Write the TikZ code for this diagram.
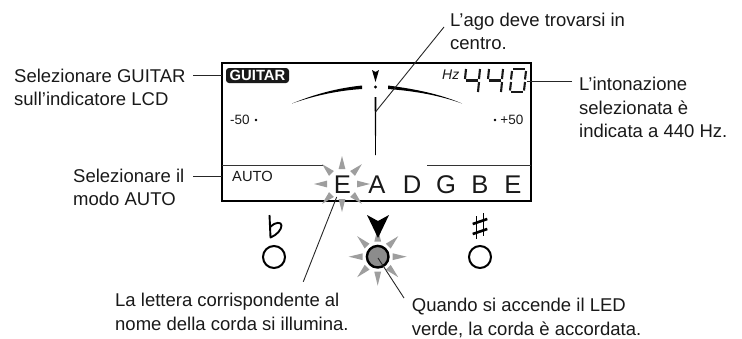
\documentclass[tikz,border=0pt]{standalone}
\usepackage{fontspec}
\setmainfont{Liberation Sans}
\usetikzlibrary{calc,positioning}
\definecolor{raygray}{gray}{.62}
\tikzset{
  lab/.style={font=\fontsize{18.5}{23.4}\selectfont,align=left,inner sep=0pt,anchor=base west,text=black!90},
  lcdtxt/.style={font=\fontsize{13.5}{14}\selectfont,inner sep=0pt,text=black!90},
  note/.style={font=\fontsize{25.6}{28}\selectfont,inner sep=0pt,anchor=base,text=black!90},
  leader/.style={line width=.9pt,black!85},
  segm/.style={line width=2.1pt,black!90},
}
\newcommand{\burst}[3]{%
  \foreach \ang in {0,45,...,315}
    \fill[raygray] ($(#1)+(\ang:#2)+(\ang+90:3.4)$) -- ($(#1)+(\ang:#3)$) -- ($(#1)+(\ang:#2)+(\ang-90:3.4)$) -- cycle;
}
\begin{document}
\begin{tikzpicture}[x=1pt,y=-1pt]
    \useasboundingbox (0,0) rectangle (742,338);

    % display frame
    \draw[line width=2pt] (222.2,63.3) rectangle (531.2,201);
    \draw[line width=.9pt,black!80] (222,165.7) -- (323,165.7);
    \draw[line width=.9pt,black!80] (427,165.7) -- (531,165.7);

    % scale
    \fill (292,103.5) .. controls (315,94) and (338,88) .. (362,85.5) -- (362,89) .. controls (338,90.5) and (315,95.5) .. cycle;
    \fill (462,103.5) .. controls (440,94) and (415,89) .. (388,85.5) -- (388,89) .. controls (415,91) and (440,95.5) .. cycle;
    \fill (372,70) -- (375.5,72) -- (379,70) -- (375.5,82) -- cycle;
    \fill (375.5,87) circle (1.6);
    \fill (374.6,97) -- (376.4,97) -- (375.8,155) -- (375.2,155) -- cycle;
    \node[lcdtxt,anchor=west] (minus) at (230,120) {-50};
    \fill (256,120) circle (1.4);
    \node[lcdtxt,anchor=east] (plus) at (523.5,120) {+50};
    \fill (495,120) circle (1.4);

    % tuned display
    \node[fill=black!90,rounded corners=3pt,text=white,font=\fontsize{14.8}{15}\bfseries\selectfont,minimum width=63pt,minimum height=15pt,inner sep=0pt] (guitar) at (257.5,75.5) {GUITAR};
    \node[lcdtxt,anchor=west,font=\fontsize{14}{14}\itshape\selectfont] (hz) at (442,75) {Hz};
    \foreach \xx in {464,487}{
      \begin{scope}[shift={(\xx,0)}]
      \draw[segm] (2,69) -- (1,79);
      \draw[segm] (2,80.5) -- (14,80.5);
      \draw[segm] (16,69) -- (15,79);
      \draw[segm] (15,82) -- (14,92);
      \end{scope}
    }
    \begin{scope}[shift={(508,0)}]
      \draw[segm] (5,69) -- (17,69);
      \draw[segm] (4,71) -- (3,79.5);
      \draw[segm] (18,71) -- (17,79.5);
      \draw[segm] (3,82) -- (2,90.5);
      \draw[segm] (17,82) -- (16,90.5);
      \draw[segm] (3,92) -- (15,92);
    \end{scope}
    \node[lcdtxt,anchor=west,font=\fontsize{14.7}{15}\selectfont] (auto) at (232,176) {AUTO};

    % strings
    \burst{342,184}{15}{28}
    \node[note] (strE) at (342.5,193.4) {E};
    \node[note] (strA) at (377,193.4) {A};
    \node[note] (strD) at (412,193.4) {D};
    \node[note] (strG) at (446,193.4) {G};
    \node[note] (strB) at (480,193.4) {B};
    \node[note] (strEE) at (513,193.4) {E};

    % tuner leds
    \draw[line width=1.9pt,line join=round] (269.5,215) -- (270.5,237.5) .. controls (277,235) and (281.5,229.5) .. (281.5,225.5) .. controls (281.5,221.5) and (275,222) .. (270,227);
    \draw[line width=1.5pt] (476.7,216) -- (476.7,239);
    \draw[line width=1.5pt] (483.3,213) -- (483.3,236);
    \draw[line width=2.6pt] (472.7,224) -- (487.3,219);
    \draw[line width=2.6pt] (472.7,234) -- (487.3,229);
    \draw[line width=2pt] (274,257) circle (11);
    \draw[line width=2pt] (480,257) circle (11);
    \burst{377.7,256.7}{15}{29}
    \draw[line width=2.4pt,fill=black!45] (377.7,256.7) circle (10.8);
    \fill (367,215) -- (378,221) -- (389,215) -- (378,238) -- cycle;

    % labels
    \node[lab] (gtxt) at (14,105.4) {Selezionare GUITAR\\sull’indicatore LCD};
    \node[lab] (atxt) at (73,205.4) {Selezionare il\\modo AUTO};
    \node[lab] (ctxt) at (450,49.5) {L’ago deve trovarsi in\\centro.};
    \node[lab] (itxt) at (579,137.7) {L’intonazione\\selezionata è\\indicata a 440 Hz.};
    \node[lab] (etxt) at (115,330) {La lettera corrispondente al\\nome della corda si illumina.};
    \node[lab] (ltxt) at (411.7,335) {Quando si accende il LED\\verde, la corda è accordata.};

    % leaders
    \coordinate (gend) at (222,75.7);
    \coordinate (aend) at (222,176);
    \coordinate (nend) at (375.7,111.7);
    \coordinate (iend) at (527,81);
    \coordinate (eend) at (336.7,197);
    \coordinate (lend) at (378,258);
    \draw[leader] (193,75.7) -- (gend);
    \draw[leader] (193,176) -- (aend);
    \draw[leader] (444,27) -- (nend);
    \draw[leader] (572,81) -- (iend);
    \draw[leader] (303.3,281.7) -- (eend);
    \draw[leader] (404,298) -- (lend);
\end{tikzpicture}
\end{document}
